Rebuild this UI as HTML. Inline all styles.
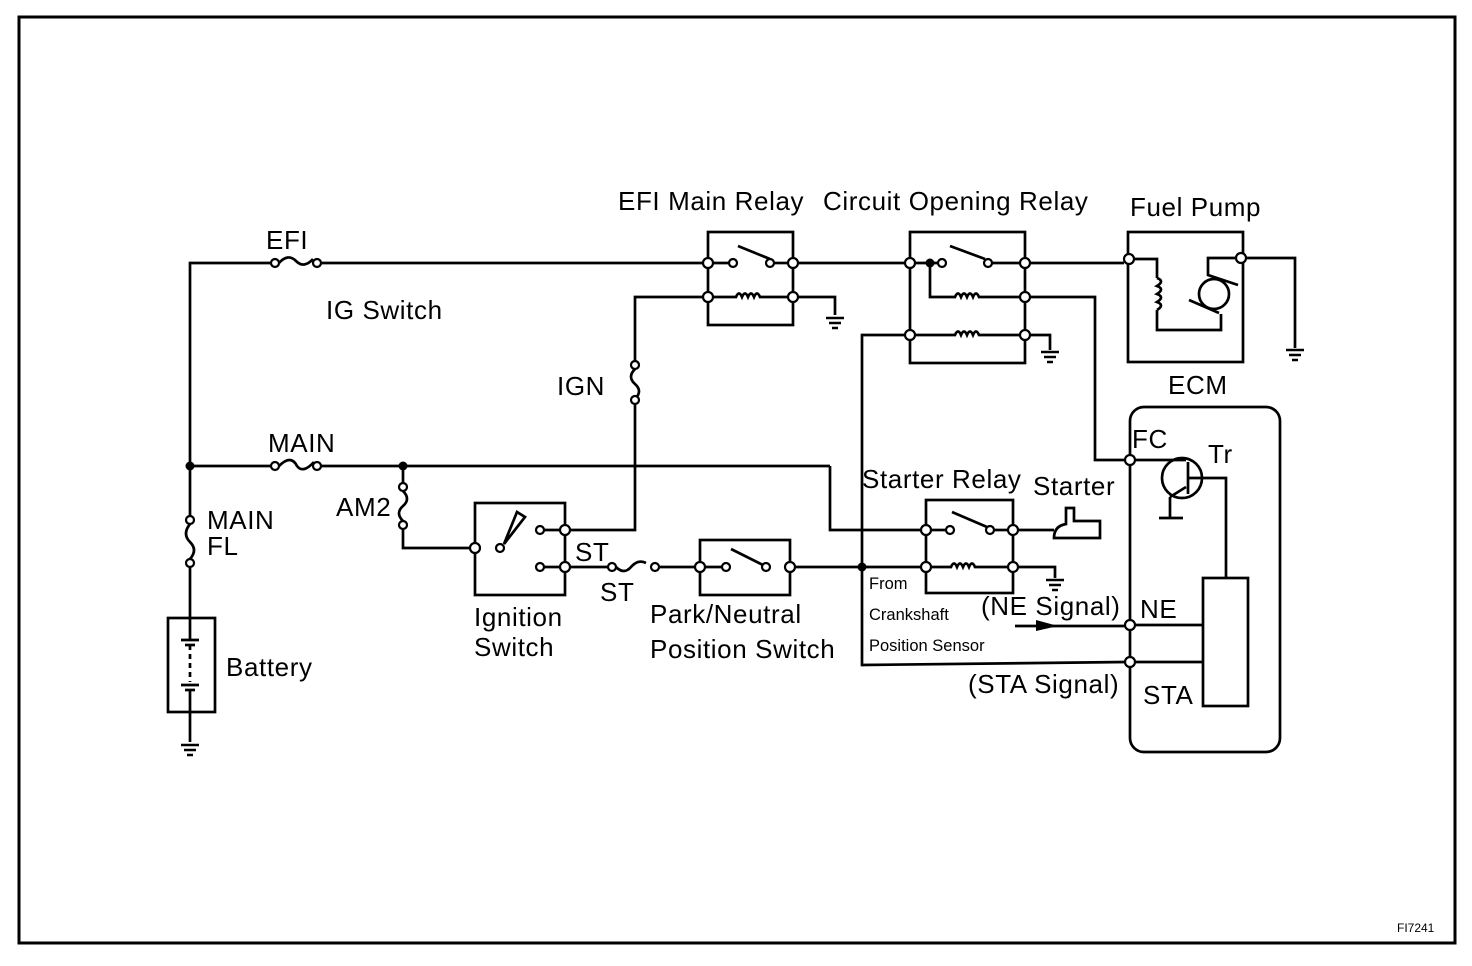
<!DOCTYPE html>
<html><head><meta charset="utf-8"><style>
body{margin:0;background:#fff}
svg{display:block}
text{font-family:"Liberation Sans",sans-serif;fill:#000}
</style></head><body>
<svg width="1472" height="966" viewBox="0 0 1472 966" xmlns="http://www.w3.org/2000/svg">
<defs>
<g id="gnd" stroke="#000" stroke-width="2.5"><line x1="-9" y1="0" x2="9" y2="0"/><line x1="-6" y1="5" x2="6" y2="5"/><line x1="-3" y1="10" x2="3" y2="10"/></g>
</defs>
<rect x="19" y="17" width="1436" height="926" fill="none" stroke="#000" stroke-width="3"/>
<g fill="none" stroke="#000" stroke-width="2.7">
<polyline points="190,520 190,263 275,263"/>
<line x1="317" y1="263" x2="708" y2="263"/>
<path d="M279,263 q9,-10 17,-2 q8,8 17,-2"/>
<line x1="190" y1="466" x2="275" y2="466"/>
<path d="M279,466 q12,-12 18,0 q6,8 17,-4"/>
<line x1="317" y1="466" x2="830" y2="466"/>
<polyline points="830,466 830,530 926,530"/>
<path d="M190,524 q-8,10 0,18 q8,8 0,17"/>
<line x1="190" y1="563" x2="190" y2="618"/>
<rect x="168" y="618" width="47" height="94"/>
<line x1="190" y1="712" x2="190" y2="742"/>
<line x1="190" y1="618" x2="190" y2="640"/>
<line x1="181" y1="640" x2="199" y2="640"/><line x1="185" y1="645" x2="195" y2="645"/>
<line x1="190" y1="645" x2="190" y2="682" stroke-dasharray="5,4"/>
<line x1="181" y1="685" x2="199" y2="685"/><line x1="185" y1="690" x2="195" y2="690"/>
<line x1="190" y1="690" x2="190" y2="712"/>
<line x1="403" y1="466" x2="403" y2="483"/>
<path d="M403,491 q8,8 0,15 q-8,7 0,15"/>
<polyline points="403,529 403,548 471,548"/>
<rect x="475" y="503" width="90" height="92"/>
<path d="M504,544 L517,512 L525,517 Z"/>
<line x1="544" y1="530" x2="561" y2="530"/>
<line x1="544" y1="567" x2="561" y2="567"/>
<polyline points="569,530 635,530 635,404"/>
<path d="M635,369 q-8,8 0,15 q8,7 0,15"/>
<polyline points="635,361 635,297 704,297"/>
<line x1="569" y1="567" x2="608" y2="567"/>
<path d="M616,567 q8,8 15,0 q7,-8 15,-4"/>
<line x1="659" y1="567" x2="696" y2="567"/>
<rect x="700" y="540" width="90" height="55"/>
<line x1="703" y1="567" x2="722" y2="567"/>
<line x1="731" y1="549" x2="763" y2="565"/>
<line x1="794" y1="567" x2="922" y2="567"/>
<rect x="708" y="232" width="85" height="93"/>
<line x1="712" y1="263" x2="729" y2="263"/>
<line x1="738" y1="246" x2="770" y2="259"/>
<line x1="774" y1="263" x2="789" y2="263"/>
<path d="M712,297 H736 q3,-7 6,0 q3,-7 6,0 q3,-7 6,0 q3,-7 6,0 H789"/>
<line x1="797" y1="263" x2="906" y2="263"/>
<polyline points="797,297 835,297 835,315"/>
<rect x="910" y="232" width="115" height="131"/>
<line x1="914" y1="263" x2="938" y2="263"/>
<line x1="950" y1="246" x2="985" y2="259"/>
<line x1="992" y1="263" x2="1021" y2="263"/>
<path d="M930,263 V297 H955 q3,-7 6,0 q3,-7 6,0 q3,-7 6,0 q3,-7 6,0 H1021"/>
<path d="M914,335 H955 q3,-7 6,0 q3,-7 6,0 q3,-7 6,0 q3,-7 6,0 H1021"/>
<polyline points="1029,335 1050,335 1050,350"/>
<polyline points="1029,297 1095,297 1095,460 1126,460"/>
<polyline points="906,335 862,335 862,665 1126,662"/>
<line x1="1029" y1="263" x2="1124" y2="263"/>
<rect x="1128" y="232" width="115" height="130"/>
<polyline points="1133,259 1157,259 1157,278"/>
<path d="M1157,278 q8,3 0,8 q8,3 0,8 q8,3 0,8 q8,3 0,8"/>
<polyline points="1157,310 1157,330 1221,330 1221,314"/>
<circle cx="1214" cy="294" r="15"/>
<polyline points="1238,258 1208,258 1208,275 1238,285"/>
<line x1="1189" y1="300" x2="1219" y2="313"/>
<polyline points="1245,258 1295,258 1295,348"/>
<rect x="1130" y="407" width="150" height="345" rx="14"/>
<circle cx="1182" cy="478" r="20"/>
<line x1="1134" y1="460" x2="1186" y2="460"/>
<line x1="1188" y1="462" x2="1188" y2="494"/>
<polyline points="1188,478 1226,478 1226,578"/>
<line x1="1186" y1="487" x2="1170" y2="497"/>
<line x1="1170" y1="497" x2="1170" y2="517"/>
<line x1="1159" y1="518" x2="1183" y2="518"/>
<rect x="1203" y="578" width="45" height="128"/>
<line x1="1134" y1="625" x2="1203" y2="625"/>
<line x1="1134" y1="662" x2="1203" y2="662"/>
<line x1="1015" y1="626" x2="1126" y2="626"/>
<rect x="926" y="500" width="87" height="93"/>
<line x1="930" y1="530" x2="946" y2="530"/>
<line x1="952" y1="512" x2="987" y2="527"/>
<line x1="994" y1="530" x2="1009" y2="530"/>
<path d="M930,567 H951 q3,-7 6,0 q3,-7 6,0 q3,-7 6,0 q3,-7 6,0 H1009"/>
<line x1="1017" y1="530" x2="1054" y2="530"/>
<polyline points="1017,567 1055,567 1055,578"/>
<path d="M1054,538 q0,-12 12,-14 V508 H1074 V521 H1100 V538 Z"/>
</g>
<path d="M1036,620 L1058,626 L1036,631 Z" fill="#000"/>
<use href="#gnd" x="190" y="745"/>
<use href="#gnd" x="835" y="318"/>
<use href="#gnd" x="1050" y="352"/>
<use href="#gnd" x="1295" y="350"/>
<use href="#gnd" x="1055" y="580"/>
<g fill="#fff" stroke="#000" stroke-width="2.2">
<circle cx="275" cy="263" r="4"/><circle cx="317" cy="263" r="4"/>
<circle cx="275" cy="466" r="4"/><circle cx="317" cy="466" r="4"/>
<circle cx="190" cy="520" r="4"/><circle cx="190" cy="563" r="4"/>
<circle cx="403" cy="487" r="4"/><circle cx="403" cy="525" r="4"/>
<circle cx="635" cy="365" r="4"/><circle cx="635" cy="400" r="4"/>
<circle cx="475" cy="548" r="5"/><circle cx="500" cy="548" r="4"/>
<circle cx="540" cy="530" r="4"/><circle cx="565" cy="530" r="5"/>
<circle cx="540" cy="567" r="4"/><circle cx="565" cy="567" r="5"/>
<circle cx="612" cy="567" r="4"/><circle cx="655" cy="567" r="4"/>
<circle cx="700" cy="567" r="5"/><circle cx="726" cy="567" r="4"/><circle cx="766" cy="567" r="4"/><circle cx="790" cy="567" r="5"/>
<circle cx="708" cy="263" r="5"/><circle cx="733" cy="263" r="4"/><circle cx="770" cy="263" r="4"/><circle cx="793" cy="263" r="5"/>
<circle cx="708" cy="297" r="5"/><circle cx="793" cy="297" r="5"/>
<circle cx="910" cy="263" r="5"/><circle cx="942" cy="263" r="4"/><circle cx="988" cy="263" r="4"/><circle cx="1025" cy="263" r="5"/>
<circle cx="1025" cy="297" r="5"/><circle cx="910" cy="335" r="5"/><circle cx="1025" cy="335" r="5"/>
<circle cx="1129" cy="259" r="5"/><circle cx="1241" cy="258" r="5"/>
<circle cx="1130" cy="460" r="5"/><circle cx="1130" cy="625" r="5"/><circle cx="1130" cy="662" r="5"/>
<circle cx="926" cy="530" r="5"/><circle cx="950" cy="530" r="4"/><circle cx="990" cy="530" r="4"/><circle cx="1013" cy="530" r="5"/>
<circle cx="926" cy="567" r="5"/><circle cx="1013" cy="567" r="5"/>
</g>
<g fill="#000">
<circle cx="190" cy="466" r="4.5"/><circle cx="403" cy="466" r="4.5"/><circle cx="862" cy="567" r="4.5"/><circle cx="930" cy="263" r="4.5"/>
</g>
<g font-size="26" letter-spacing="0.6">
<text x="266" y="249">EFI</text>
<text x="326" y="319">IG Switch</text>
<text x="268" y="452">MAIN</text>
<text x="207" y="529">MAIN</text>
<text x="207" y="555">FL</text>
<text x="226" y="676">Battery</text>
<text x="336" y="516">AM2</text>
<text x="557" y="395">IGN</text>
<text x="474" y="626">Ignition</text>
<text x="474" y="656">Switch</text>
<text x="575" y="561">ST</text>
<text x="600" y="601">ST</text>
<text x="650" y="623">Park/Neutral</text>
<text x="650" y="658">Position Switch</text>
<text x="618" y="210">EFI Main Relay</text>
<text x="823" y="210">Circuit Opening Relay</text>
<text x="1130" y="216">Fuel Pump</text>
<text x="1168" y="394">ECM</text>
<text x="1132" y="448">FC</text>
<text x="1208" y="463">Tr</text>
<text x="862" y="488">Starter Relay</text>
<text x="1033" y="495">Starter</text>
<text x="981" y="615">(NE Signal)</text>
<text x="1140" y="618">NE</text>
<text x="968" y="693">(STA Signal)</text>
<text x="1143" y="704">STA</text>
</g>
<g font-size="16.5">
<text x="869" y="589">From</text>
<text x="869" y="620">Crankshaft</text>
<text x="869" y="651">Position Sensor</text>
</g>
<text x="1397" y="932" font-size="12">FI7241</text>
</svg>
</body></html>
